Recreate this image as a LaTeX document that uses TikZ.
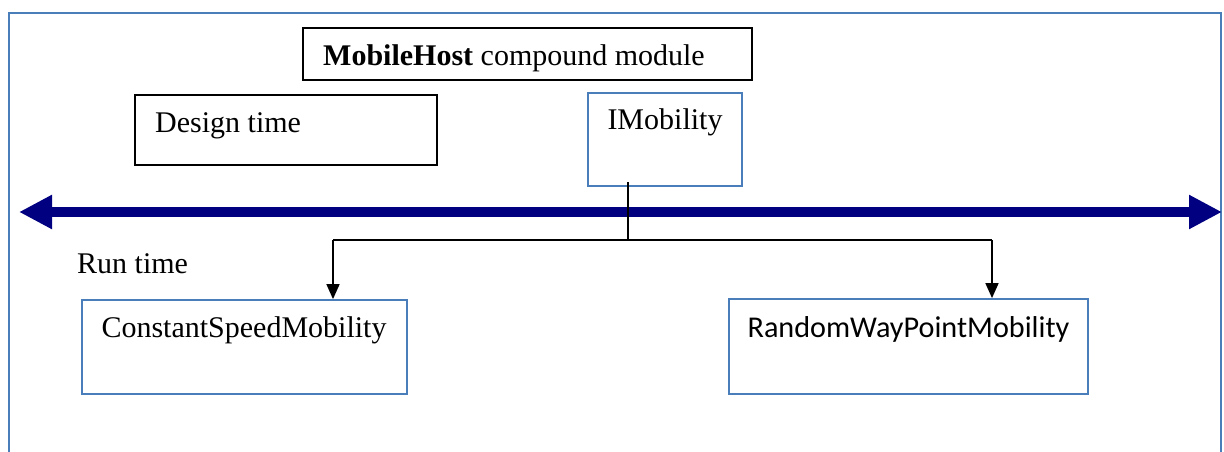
\documentclass[tikz,border=0pt]{standalone}
\usepackage{fontspec}
\setmainfont{Liberation Serif}
\newfontfamily\calibri{Carlito}
\usetikzlibrary{arrows.meta,positioning}
\definecolor{boxblue}{RGB}{74,126,187}
\definecolor{arrownavy}{RGB}{0,0,128}

\begin{document}
\begin{tikzpicture}[x=1pt,y=-1pt,
	every node/.style={font=\fontsize{30}{36}\selectfont},
	blackbox/.style={draw=black, line width=1.8pt, inner sep=0pt},
	bluebox/.style={draw=boxblue, line width=1.8pt, inner sep=0pt},
	txt/.style={inner sep=0pt, anchor=base},
	link/.style={line width=1.6pt, -{Triangle[length=15pt,width=13pt]}}]
\useasboundingbox (0,0) rectangle (1224,452);
\clip (0,0) rectangle (1224,452);
%Rahmen
\draw [boxblue, line width=2pt] (9,13) rectangle (1221,470);
%Kaesten
\node [blackbox, minimum width=449pt, minimum height=52pt] (host) at (527.5,54) {};
\node [blackbox, minimum width=302pt, minimum height=70pt] (design) at (286,130) {};
\node [bluebox, minimum width=154pt, minimum height=93pt] (imob) at (665,139.5) {};
\node [bluebox, minimum width=325pt, minimum height=94pt] (csm) at (244.5,347) {};
\node [bluebox, minimum width=359pt, minimum height=95pt] (rwp) at (908.5,346.5) {};
% Texte
\node [txt, anchor=base west] (hosttxt) at (323,66) {\textbf{MobileHost} compound module};
\node [txt, anchor=base west] (designtxt) at (155,132) {Design time};
\node [txt] (imobtxt) at (665,129) {IMobility};
\node [txt, anchor=base west] (runtxt) at (77,273) {Run time};
\node [txt] (csmtxt) at (244,337) {ConstantSpeedMobility};
\node [txt, font=\calibri\fontsize{30.2}{36}\selectfont] (rwptxt) at (908.5,337) {RandomWayPointMobility};
%Zeitachse
\coordinate (tl) at (19,212);
\coordinate (tr) at (1222,212);
\draw [arrownavy, line width=10pt, {Triangle[length=33pt,width=32pt]}-{Triangle[length=33pt,width=32pt]}] (tl) -- (tr);
%Verbindungen
\coordinate (split) at (628,240);
\coordinate (lft) at (333,240);
\coordinate (rgt) at (992,240);
\draw [line width=1.6pt] ([yshift=5pt]imob.south -| split) -- (split);
\draw [line width=1.6pt] (lft) -- (rgt);
\draw [link] (lft) -- (lft |- csm.north);
\draw [link] (rgt) -- (rgt |- rwp.north);

\end{tikzpicture}
\end{document}
